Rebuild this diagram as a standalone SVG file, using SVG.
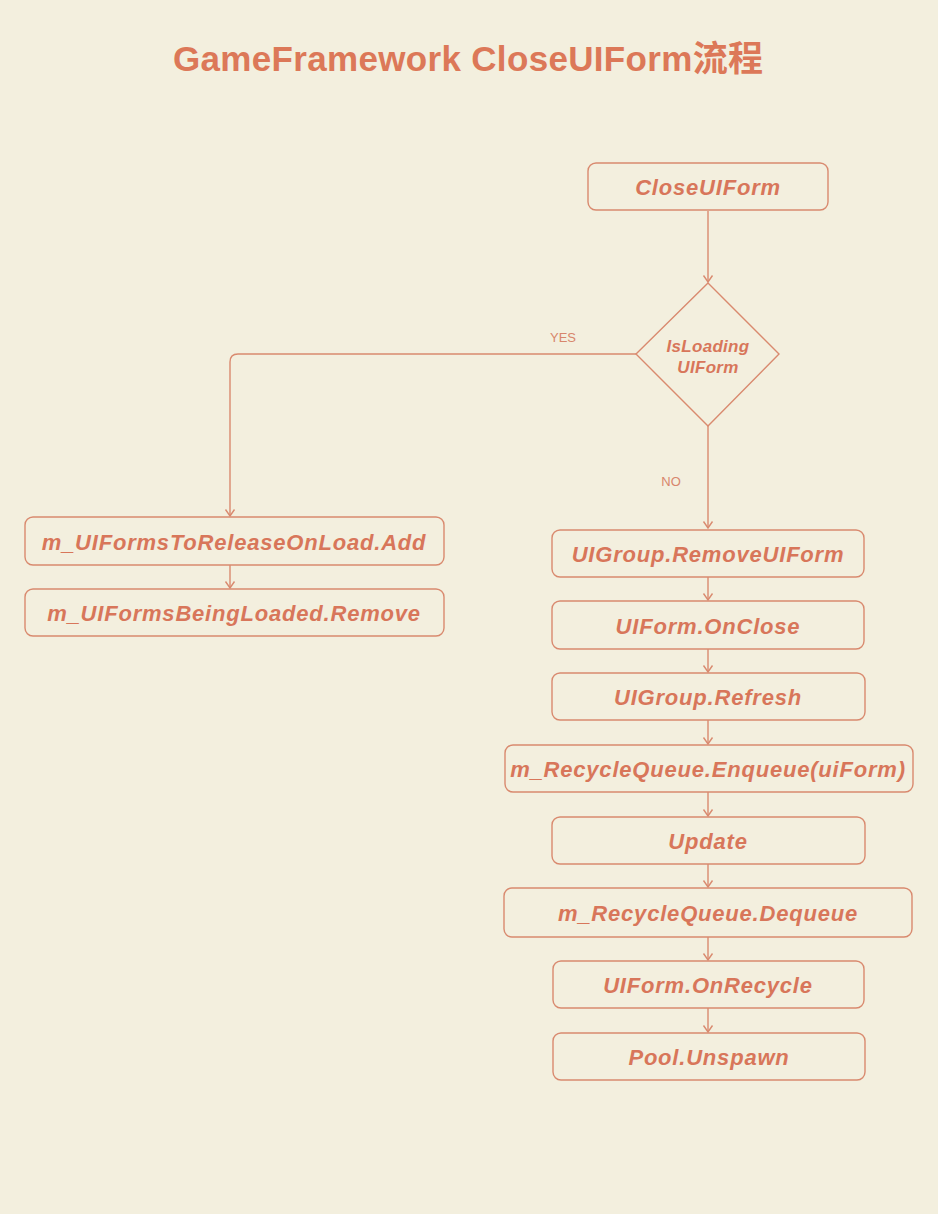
<svg xmlns="http://www.w3.org/2000/svg" width="938" height="1214" viewBox="0 0 938 1214">
<defs>
<style>
.bg{fill:#f3efde}
.box{fill:none;stroke:#d98a6f;stroke-width:1.4}
.lbl{font-family:"Liberation Sans","Noto Sans CJK SC",sans-serif;font-weight:bold;font-style:italic;font-size:22px;letter-spacing:0.8px;fill:#d8765a;text-anchor:middle;dominant-baseline:central}
.dlbl{font-size:17px;letter-spacing:0.3px}
.edge{fill:none;stroke:#d98a6f;stroke-width:1.4}
.elbl{font-family:"Liberation Sans",sans-serif;font-size:13px;fill:#d8866c;text-anchor:middle}
.title{font-family:"Liberation Sans","Noto Sans CJK SC",sans-serif;font-weight:bold;font-size:35px;fill:#dc7858;text-anchor:middle}
</style>
<marker id="arr" markerWidth="12" markerHeight="12" refX="10" refY="6" orient="auto" markerUnits="userSpaceOnUse" viewBox="0 0 12 12">
<path d="M3.5,1.5 L10,6 L3.5,10.5" fill="none" stroke="#d98a6f" stroke-width="1.4"/>
</marker>
</defs>
<rect class="bg" x="0" y="0" width="938" height="1214"/>
<text class="title" x="468" y="71" textLength="590" lengthAdjust="spacing">GameFramework CloseUIForm流程</text>

<g id="connectors">
<path class="edge" d="M708,211 L708,282" marker-end="url(#arr)"/>
<path class="edge" d="M636,354 L238,354 Q230,354 230,362 L230,516" marker-end="url(#arr)"/>
<text class="elbl" x="563" y="342">YES</text>
<path class="edge" d="M708,426 L708,528" marker-end="url(#arr)"/>
<text class="elbl" x="671" y="486">NO</text>
<path class="edge" d="M230,565 L230,588" marker-end="url(#arr)"/>
<path class="edge" d="M708,577 L708,600" marker-end="url(#arr)"/>
<path class="edge" d="M708,649 L708,672" marker-end="url(#arr)"/>
<path class="edge" d="M708,720 L708,744" marker-end="url(#arr)"/>
<path class="edge" d="M708,792 L708,816" marker-end="url(#arr)"/>
<path class="edge" d="M708,864 L708,887" marker-end="url(#arr)"/>
<path class="edge" d="M708,937 L708,960" marker-end="url(#arr)"/>
<path class="edge" d="M708,1008 L708,1032" marker-end="url(#arr)"/>
</g>

<g id="n-closeuiform">
<rect class="box" x="588" y="163" width="240" height="47" rx="8"/>
<text class="lbl" x="708" y="187">CloseUIForm</text>
</g>
<g id="n-isloading">
<path class="box" d="M708,283 L779,354 L708,426 L636,354 Z"/>
<text class="lbl dlbl" x="708" y="346">IsLoading</text>
<text class="lbl dlbl" x="708" y="367">UIForm</text>
</g>
<g id="n-release">
<rect class="box" x="25" y="517" width="419" height="48" rx="8"/>
<text class="lbl" x="234" y="542">m_UIFormsToReleaseOnLoad.Add</text>
</g>
<g id="n-beingloaded">
<rect class="box" x="25" y="589" width="419" height="47" rx="8"/>
<text class="lbl" x="234" y="613">m_UIFormsBeingLoaded.Remove</text>
</g>
<g id="n-removeuiform">
<rect class="box" x="552" y="530" width="312" height="47" rx="8"/>
<text class="lbl" x="708" y="554">UIGroup.RemoveUIForm</text>
</g>
<g id="n-onclose">
<rect class="box" x="552" y="601" width="312" height="48" rx="8"/>
<text class="lbl" x="708" y="626">UIForm.OnClose</text>
</g>
<g id="n-refresh">
<rect class="box" x="552" y="673" width="313" height="47" rx="8"/>
<text class="lbl" x="708" y="697">UIGroup.Refresh</text>
</g>
<g id="n-enqueue">
<rect class="box" x="505" y="745" width="408" height="47" rx="8"/>
<text class="lbl" x="708" y="769">m_RecycleQueue.Enqueue(uiForm)</text>
</g>
<g id="n-update">
<rect class="box" x="552" y="817" width="313" height="47" rx="8"/>
<text class="lbl" x="708" y="841">Update</text>
</g>
<g id="n-dequeue">
<rect class="box" x="504" y="888" width="408" height="49" rx="8"/>
<text class="lbl" x="708" y="913">m_RecycleQueue.Dequeue</text>
</g>
<g id="n-onrecycle">
<rect class="box" x="553" y="961" width="311" height="47" rx="8"/>
<text class="lbl" x="708" y="985">UIForm.OnRecycle</text>
</g>
<g id="n-unspawn">
<rect class="box" x="553" y="1033" width="312" height="47" rx="8"/>
<text class="lbl" x="709" y="1057">Pool.Unspawn</text>
</g>
</svg>
